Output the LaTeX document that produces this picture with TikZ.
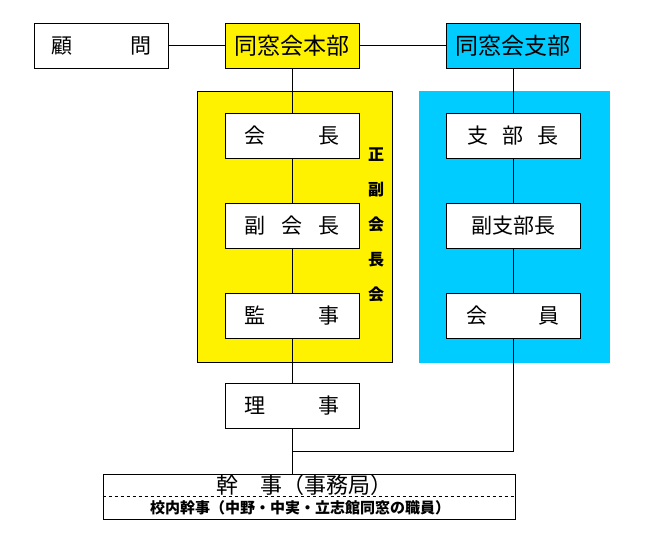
\documentclass[tikz,border=0pt]{standalone}
\usepackage{fontspec}
\setmainfont{Noto Sans CJK JP}
\definecolor{shibublue}{RGB}{0,204,255}
\begin{document}
\begin{tikzpicture}[x=1pt,y=-1pt,line width=1pt,
	box/.style={draw,fill=white,minimum width=134pt,minimum height=45pt,inner sep=0pt,font=\fontsize{21}{21}\selectfont},
	area/.style={draw,inner sep=0pt,minimum height=271pt}]
	\useasboundingbox (0,0) rectangle (645,550);
	\node[area,fill=yellow,minimum width=195pt] (honbuArea) at (294.5,226.5) {};
	\node[area,fill=shibublue,draw=shibublue,minimum width=190pt] (shibuArea) at (514,226.5) {};
	\node[box] (komon) at (101.5,45.5) {顧\hspace{58pt}問};
	\node[box,fill=yellow,font=\fontsize{23}{23}\selectfont] (honbu) at (292,45.5) {同窓会本部};
	\node[box,fill=shibublue,font=\fontsize{23}{23}\selectfont] (shibu) at (513,45.5) {同窓会支部};
	\node[box] (kaicho) at (292,136) {会\hspace{54pt}長};
	\node[box] (fukukaicho) at (292,225.5) {副\hspace{16pt}会\hspace{16pt}長};
	\node[box] (kansa) at (292,315.5) {監\hspace{54pt}事};
	\node[box] (riji) at (292,406) {理\hspace{54pt}事};
	\node[box] (shibucho) at (513,136) {支\hspace{14pt}部\hspace{14pt}長};
	\node[box] (fukushibucho) at (513,225.5) {副支部長};
	\node[box] (kaiin) at (513,315.5) {会\hspace{51pt}員};
	\node[font=\bfseries\fontsize{16}{35}\selectfont,align=center,inner sep=0pt] (seifuku) at (376,224.5) {正\\副\\会\\長\\会};
	\node[draw,minimum width=412pt,minimum height=45pt,inner sep=0pt] (kanjiBox) at (309,496.5) {};
	\draw[dashed,line width=0.8pt] (kanjiBox.west) -- (kanjiBox.east);
	\node[font=\fontsize{22}{22}\selectfont,inner sep=0pt] (kanjiTitle) at (304,485) {幹　事（事務局）};
	\node[font=\bfseries\fontsize{15}{15}\selectfont,inner sep=0pt] (kanjiNote) at (300,507.5) {校内幹事（中野・中実・立志館同窓の職員）};
	\coordinate (junction) at (292,451);
	\draw (komon) -- (honbu) -- (shibu);
	\draw (honbu) -- (kaicho) -- (fukukaicho) -- (kansa) -- (riji);
	\draw (riji.south) -- (riji.south |- kanjiBox.north);
	\draw (shibu) -- (shibucho) -- (fukushibucho) -- (kaiin);
	\draw (kaiin.south) |- (junction);
\end{tikzpicture}
\end{document}
